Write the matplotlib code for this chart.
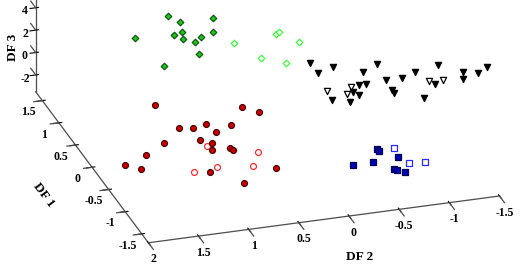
import numpy as np
import matplotlib
matplotlib.use('Agg')
import matplotlib.pyplot as plt
from mpl_toolkits.mplot3d import proj3d

plt.rcParams['font.family'] = 'Liberation Serif'
plt.rcParams['font.weight'] = 'bold'
plt.rcParams['axes.unicode_minus'] = False

# discriminant function scores per group (DF1, DF2, DF3)
green_df1 = [1.315, 1.292, 1.162, 1.126, 0.955, 1.035, 0.964, 0.771, 0.822, 0.898, 0.645, 0.317]
green_df2 = [0.811, 0.700, 0.410, 1.203, 0.867, 0.764, 0.777, 0.659, 0.698, 0.497, 0.717, 1.175]
green_df3 = [3.4, 2.8, 3.3, 2.6, 3.2, 3.0, 2.7, 3.5, 2.9, 3.2, 2.5, 3.3]

green_open_df1 = [0.743, 0.247, 0.732, 0.684, 0.564, 0.086]
green_open_df2 = [0.339, 0.233, -0.076, -0.094, -0.250, 0.035]
green_open_df3 = [2.7, 3.2, 3.0, 3.4, 2.8, 3.1]

black_df1 = [-0.254, -0.353, -0.433, -0.500, -0.290, -0.809, -0.732, -0.975, -0.899, -1.021, -0.972, -0.780,
             -0.955, -0.983, -0.812, -0.562, -1.236, -0.689, -0.925, -0.819, -0.921, -0.925, -0.874]
black_df2 = [-0.090, -0.137, -0.263, -0.534, -0.748, -0.398, -0.491, -0.278, -0.368, -0.059, -0.252, -0.674,
             -0.676, -0.690, -0.826, -1.032, -0.905, -1.225, -1.112, -1.432, -1.392, -1.541, -1.653]
black_df3 = [4.3, 3.8, 4.5, 4.0, 3.6, 4.2, 3.9, 4.4, 3.7, 4.1, 3.5, 4.2,
             4.0, 3.8, 4.3, 3.6, 4.1, 4.5, 3.9, 4.2, 4.0, 4.4, 4.6]

black_open_df1 = [-0.845, -0.718, -0.943, -0.969, -0.870]
black_open_df2 = [-0.067, -0.342, -0.228, -1.040, -1.206]
black_open_df3 = [4.2, 3.7, 4.1, 4.4, 3.9]

red_df1 = [0.339, 0.223, -0.051, -0.122, -0.276, -0.073, -0.322, -0.133, -0.487, -0.425,
           -0.503, -0.732, -0.561, -0.766, -0.510, -0.749, -0.957, -1.067, -1.199, -1.501]
red_df2 = [1.257, 0.431, 0.352, 1.173, 1.081, 0.888, 0.867, 0.655, 1.440, 1.063,
           0.966, 1.042, 0.809, 0.844, 1.630, 1.922, 1.827, 1.179, 0.561, 0.980]
red_df3 = [-0.2, -0.9, -0.3, -0.5, 0.0, -0.7, -0.4, -0.8, -0.1, -0.5,
           -0.6, -0.2, -1.0, -0.3, -0.8, -0.4, -0.1, -0.7, -0.5, -0.2]

red_open_df1 = [-0.522, -0.897, -1.018, -0.979, -1.148]
red_open_df2 = [1.023, 0.641, 1.090, 1.304, 0.773]
red_open_df3 = [-0.7, -0.2, -0.5, -0.9, -0.3]

blue_df1 = [-0.912, -0.930, -1.005, -1.215, -1.122, -1.277, -1.317, -1.483]
blue_df2 = [-0.538, -0.554, -0.713, -0.199, -0.428, -0.589, -0.602, -0.631]
blue_df3 = [-1.3, -1.4, -1.8, -1.1, -1.5, -1.7, -1.6, -1.2]

blue_open_df1 = [-0.834, -1.310, -1.288]
blue_open_df2 = [-0.733, -0.728, -0.898]
blue_open_df3 = [-1.7, -1.2, -1.4]

df1_ticks = [-1.5, -1, -0.5, 0, 0.5, 1, 1.5]
df2_ticks = [-1.5, -1, -0.5, 0, 0.5, 1, 1.5, 2]
df3_ticks = [-2, 0, 2, 4]

DF1_LIM = (-1.7, 1.7)
DF2_LIM = (-1.5, 2)
DF3_LIM = (-3.5, 5)

W, H = 524, 266
fig = plt.figure(figsize=(W / 100, H / 100), dpi=100)
ax = fig.add_axes([0, 0, 1, 1], projection='3d', proj_type='ortho')

groups = [
    (green_df1, green_df2, green_df3, 'D', 11, '#1ec81e', '#0b5a0b'),
    (green_open_df1, green_open_df2, green_open_df3, 'D', 11, 'white', '#3cff3c'),
    (black_df1, black_df2, black_df3, 'v', 20, 'black', 'black'),
    (black_open_df1, black_open_df2, black_open_df3, 'v', 20, 'white', 'black'),
    (red_df1, red_df2, red_df3, 'o', 18, '#cc0000', '#4a0000'),
    (red_open_df1, red_open_df2, red_open_df3, 'o', 18, 'white', '#ff2a2a'),
    (blue_df1, blue_df2, blue_df3, 's', 14, '#0000b4', '#00005a'),
    (blue_open_df1, blue_open_df2, blue_open_df3, 's', 14, 'white', '#2b2bff'),
]
for x, y, z, m, s, fc, ec in groups:
    ax.scatter(x, y, z, marker=m, s=s, facecolors=fc, edgecolors=ec,
               linewidths=0.9, depthshade=False)

# short outward tick marks, matlab style (the mplot3d ones do not show here)
tick_kw = dict(color='0.3', lw=0.9)
for t in df1_ticks:
    ax.plot([t, t], [DF2_LIM[1], DF2_LIM[1] + 0.085], [DF3_LIM[0]] * 2, **tick_kw)
for t in df2_ticks:
    ax.plot([DF1_LIM[0], DF1_LIM[0] - 0.15], [t, t], [DF3_LIM[0]] * 2, **tick_kw)
for t in df3_ticks:
    ax.plot([DF1_LIM[1], DF1_LIM[1] + 0.15], [DF2_LIM[1]] * 2, [t, t], **tick_kw)

ax.set_xlim(*DF1_LIM, view_margin=0)
ax.set_ylim(*DF2_LIM, view_margin=0)
ax.set_zlim(*DF3_LIM, view_margin=0)
ax.set_box_aspect((374.8, 368.2, 105.0))
ax.view_init(elev=25, azim=162.5)

ax.set_xticks(df1_ticks)
ax.set_xticklabels([f'{t:g}' for t in df1_ticks])
ax.set_yticks(df2_ticks)
ax.set_yticklabels([f'{t:g}' for t in df2_ticks])
ax.set_zticks(df3_ticks)
ax.set_zticklabels([f'{t:g}' for t in df3_ticks])
ax.tick_params(axis='x', labelsize=8.5, pad=0)
ax.tick_params(axis='y', labelsize=8.5, pad=0.5)
ax.tick_params(axis='z', labelsize=8.5, pad=-3.5)

# z axis on the left back corner, like the matlab figure
ax.zaxis.set_ticks_position('upper')
ax.zaxis.set_label_position('upper')

ax.grid(False)
for axis in (ax.xaxis, ax.yaxis, ax.zaxis):
    axis.set_pane_color((1, 1, 1, 0))
    axis.pane.set_edgecolor((1, 1, 1, 0))
    axis.line.set_color('0.3')
    axis.line.set_linewidth(0.9)

fig.text(44 / W, 1 - 195 / H, 'DF 1', fontsize=9.5, fontweight='bold',
         rotation=-53, rotation_mode='anchor', ha='center', va='center')
fig.text(360 / W, 1 - 257 / H, 'DF 2', fontsize=9.5, fontweight='bold',
         ha='center', va='center')
fig.text(12.5 / W, 1 - 47 / H, 'DF 3', fontsize=9.5, fontweight='bold',
         rotation=90, ha='center', va='center')


# fit the 3d box onto the picture: two floor corners in pixels (y up)
def to_px(x, y, z):
    px, py, _ = proj3d.proj_transform(x, y, z, ax.get_proj())
    return ax.transData.transform((px, py))


target_a = np.array([35.7, H - 91.7])
target_c = np.array([499.5, H - 196.0])
cx, cy, side = W / 2, H / 2, 400.0
ax.set_position([(cx - side / 2) / W, (cy - side / 2) / H, side / W, side / H])
for _ in range(3):
    fig.canvas.draw()
    a = to_px(DF1_LIM[1], DF2_LIM[1], DF3_LIM[0])
    c = to_px(DF1_LIM[0], DF2_LIM[0], DF3_LIM[0])
    k = np.linalg.norm(target_c - target_a) / np.linalg.norm(c - a)
    mid = (a + c) / 2
    new_mid = np.array([cx, cy]) + (mid - np.array([cx, cy])) * k
    shift = (target_a + target_c) / 2 - new_mid
    cx, cy, side = cx + shift[0], cy + shift[1], side * k
    ax.set_position([(cx - side / 2) / W, (cy - side / 2) / H, side / W, side / H])

fig.savefig('out.png', dpi=100)
